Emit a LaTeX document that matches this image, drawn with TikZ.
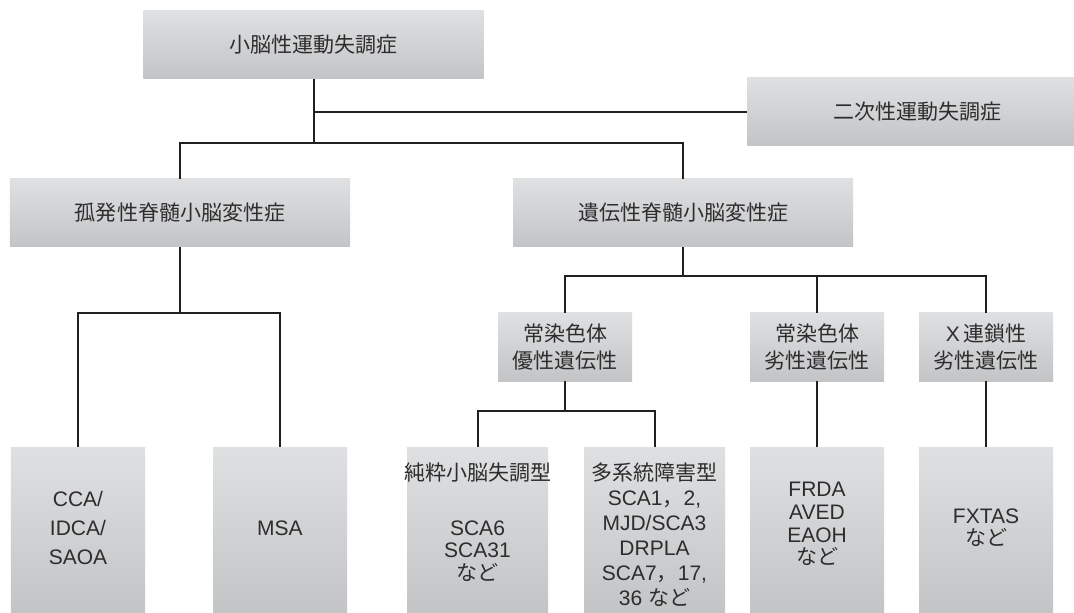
\documentclass[tikz,border=0pt]{standalone}
\usepackage{fontspec}
\setmainfont{Liberation Sans}
\newfontfamily\jp{Noto Sans CJK JP}
\newcommand{\jtxt}[1]{{\jp #1}}
\definecolor{boxtop}{RGB}{223,224,226}
\definecolor{boxbot}{RGB}{195,196,198}
\definecolor{linecol}{RGB}{35,31,32}
\definecolor{txtcol}{RGB}{45,45,45}
\tikzset{
  box/.style={rectangle, inner sep=0pt, top color=boxtop, bottom color=boxbot, draw=none,
              text=txtcol, align=center, font=\fontsize{21bp}{27bp}\selectfont},
  txt/.style={inner sep=0pt, text=txtcol, align=center},
  conn/.style={draw=linecol, line width=2bp},
  wide/.style={minimum width=340bp, minimum height=68bp},
  mid/.style={minimum width=134bp, minimum height=68bp},
  tall/.style={minimum width=134bp, minimum height=166bp},
  talln/.style={minimum width=141bp, minimum height=166bp},
}
\begin{document}
\begin{tikzpicture}[x=1bp,y=-1bp]
\useasboundingbox[fill=white] (0,0) rectangle (1074,613);

% level 1
\node[box, wide] (top) at (313.5,45) {\jtxt{小脳性運動失調症}};
\begin{scope}
  \clip (0,0) rectangle (1074,613);
  \node[box, wide] (sec) at (917,112) {\jtxt{二次性運動失調症}};
\end{scope}

% level 2
\node[box, wide] (L2a) at (180,213) {\jtxt{孤発性脊髄小脳変性症}};
\node[box, wide] (L2b) at (683,213) {\jtxt{遺伝性脊髄小脳変性症}};

% level 3
\node[box, mid] (L3a) at (565,347) {\jtxt{常染色体}\\\jtxt{優性遺伝性}};
\node[box, mid] (L3b) at (817,347) {\jtxt{常染色体}\\\jtxt{劣性遺伝性}};
\node[box, mid] (L3c) at (986,347) {X\,\jtxt{連鎖性}\\\jtxt{劣性遺伝性}};

% bottom boxes
\node[box, tall]  (b1) at (78,530) {};
\node[box, tall]  (b2) at (280,530) {};
\node[box, talln] (b3) at (477.5,530) {};
\node[box, talln] (b4) at (654.5,530) {};
\node[box, tall]  (b5) at (817,530) {};
\node[box, tall]  (b6) at (986,530) {};

\node[txt, yshift=2bp, font=\fontsize{21bp}{29bp}\selectfont] (b1t) at (b1) {CCA/\\IDCA/\\SAOA};
\node[txt, yshift=2bp, font=\fontsize{21bp}{29bp}\selectfont] (b2t) at (b2) {MSA};
\node[txt, yshift=8bp, font=\fontsize{21bp}{22.5bp}\selectfont] (b3t) at (b3)
  {\jtxt{純粋小脳失調型}\\[32.5bp]SCA6\\SCA31\\\jtxt{など}};
\node[txt, yshift=-4.5bp, font=\fontsize{21bp}{25bp}\selectfont] (b4t) at (b4)
  {\jtxt{多系統障害型}\\SCA1\jtxt{，}2,\\MJD/SCA3\\DRPLA\\SCA7\jtxt{，}17,\\36 \jtxt{など}};
\node[txt, yshift=6bp, font=\fontsize{21bp}{22.7bp}\selectfont] (b5t) at (b5)
  {FRDA\\AVED\\EAOH\\\jtxt{など}};
\node[txt, yshift=2.5bp, font=\fontsize{21bp}{21.5bp}\selectfont] (b6t) at (b6)
  {FXTAS\\\jtxt{など}};

% connectors
\coordinate (j1) at (313.5,143);
\coordinate (j2) at (180,313);
\coordinate (j3) at (683,276);
\coordinate (j4) at (565,411);

\draw[conn] (top.south) -- (j1);
\draw[conn] (top.south |- sec.west) -- (sec.west);
\draw[conn] (L2a.north) |- (j1) -| (L2b.north);

\draw[conn] (L2a.south) -- (j2);
\draw[conn] (b1.north) |- (j2) -| (b2.north);

\draw[conn] (L2b.south) -- (j3);
\draw[conn] (L3a.north) |- (j3) -| (L3c.north);
\draw[conn] (L3b.north) -- (L3b.north |- j3);

\draw[conn] (L3a.south) -- (j4);
\draw[conn] (b3.north) |- (j4) -| (b4.north);
\draw[conn] (L3b.south) -- (b5.north);
\draw[conn] (L3c.south) -- (b6.north);
\end{tikzpicture}
\end{document}
